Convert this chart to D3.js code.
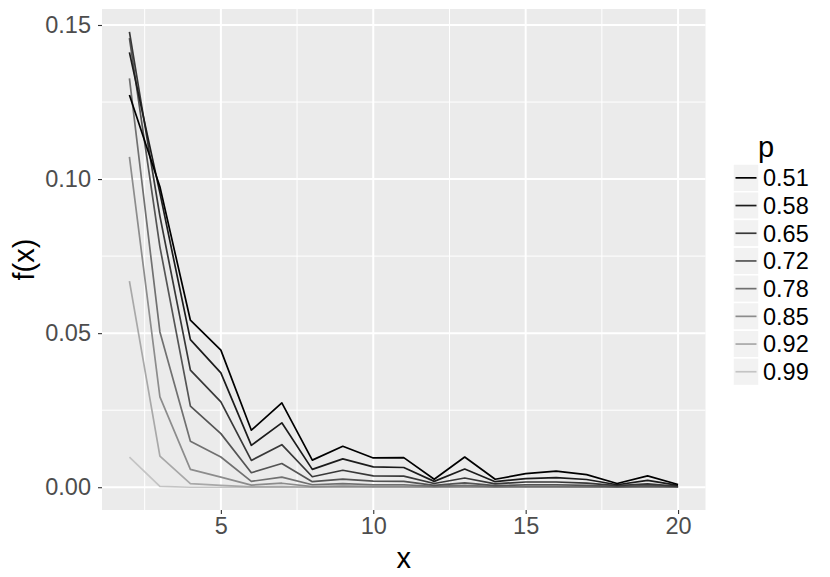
<!DOCTYPE html>
<html>
<head>
<meta charset="utf-8">
<script src="https://cdn.jsdelivr.net/npm/d3@7"></script>
<style>
  body { margin: 0; background: #fff; }
  text { font-family: "Liberation Sans", Arial, sans-serif; }
</style>
</head>
<body>
<div id="chart"></div>
<script>
// values
var xs = [2, 3, 4, 5, 6, 7, 8, 9, 10, 11, 12, 13, 14, 15, 16, 17, 18, 19, 20];
var pLevels = ["0.51", "0.58", "0.65", "0.72", "0.78", "0.85", "0.92", "0.99"];
var f051 = [0.1273, 0.0975, 0.0542, 0.0445, 0.0185, 0.0274, 0.0088, 0.0133, 0.0095, 0.0096, 0.0026, 0.0098, 0.0026, 0.0044, 0.0052, 0.0041, 0.0012, 0.0037, 0.0009];
var f058 = [0.1411, 0.0955, 0.0479, 0.0371, 0.0136, 0.0209, 0.0058, 0.0092, 0.0066, 0.0064, 0.0019, 0.0059, 0.0018, 0.0028, 0.0031, 0.0025, 0.0008, 0.0022, 0.0006];
var f065 = [0.1478, 0.0880, 0.0380, 0.0277, 0.0087, 0.0138, 0.0034, 0.0055, 0.0037, 0.0036, 0.0012, 0.0030, 0.0011, 0.0017, 0.0017, 0.0013, 0.0005, 0.0011, 0.0003];
var f072 = [0.1457, 0.0780, 0.0263, 0.0174, 0.0047, 0.0077, 0.0018, 0.0026, 0.0020, 0.0019, 0.0006, 0.0014, 0.0005, 0.0008, 0.0008, 0.0006, 0.0002, 0.0005, 0.0002];
var f078 = [0.1327, 0.0504, 0.0149, 0.0098, 0.0019, 0.0033, 0.0008, 0.0012, 0.0008, 0.0008, 0.0003, 0.0006, 0.0002, 0.0003, 0.0003, 0.0002, 0.0001, 0.0002, 0.0001];
var f085 = [0.1072, 0.0293, 0.0058, 0.0033, 0.0007, 0.0013, 0.0002, 0.0004, 0.0003, 0.0003, 0.0001, 0.0002, 0.0001, 0.0001, 0.0001, 0.0001, 0.0000, 0.0001, 0.0000];
var f092 = [0.0669, 0.0101, 0.0012, 0.0006, 0.0001, 0.0002, 0.0000, 0.0000, 0.0000, 0.0000, 0.0000, 0.0000, 0.0000, 0.0000, 0.0000, 0.0000, 0.0000, 0.0000, 0.0000];
var f099 = [0.0098, 0.0003, 0.0000, 0.0000, 0.0000, 0.0000, 0.0000, 0.0000, 0.0000, 0.0000, 0.0000, 0.0000, 0.0000, 0.0000, 0.0000, 0.0000, 0.0000, 0.0000, 0.0000];
var yTicks = [0, 0.05, 0.10, 0.15];
var xTicks = [5, 10, 15, 20];

var seriesVals = [f051, f058, f065, f072, f078, f085, f092, f099];
var series = pLevels.map(function (p, i) {
  return { p: p, values: xs.map(function (x, j) { return { x: x, y: seriesVals[i][j] }; }) };
});

var width = 830, height = 577;
var panel = { left: 102, right: 705.5, top: 9, bottom: 510 };

var svg = d3.select("#chart").append("svg")
  .attr("width", width)
  .attr("height", height);

// ggplot-like 5% expansion
var xExt = d3.extent(xs);
var xPad = (xExt[1] - xExt[0]) * 0.05;
var yMax = d3.max(seriesVals, function (s) { return d3.max(s); });
var yPad = yMax * 0.05;

var x = d3.scaleLinear().domain([xExt[0] - xPad, xExt[1] + xPad]).range([panel.left, panel.right]);
var y = d3.scaleLinear().domain([-yPad, yMax + yPad]).range([panel.bottom, panel.top]);

var colour = d3.scaleOrdinal()
  .domain(pLevels)
  .range(pLevels.map(function (d, i) {
    var g = Math.round(196 * i / (pLevels.length - 1));
    return d3.rgb(g, g, g).toString();
  }));

// panel background
svg.append("rect")
  .attr("x", panel.left).attr("y", panel.top)
  .attr("width", panel.right - panel.left).attr("height", panel.bottom - panel.top)
  .attr("fill", "#EBEBEB");

// minor grid
var xMinor = [2.5, 7.5, 12.5, 17.5];
var yMinor = [0.025, 0.075, 0.125];
svg.append("g").selectAll("line").data(xMinor).enter().append("line")
  .attr("x1", function (d) { return x(d); }).attr("x2", function (d) { return x(d); })
  .attr("y1", panel.top).attr("y2", panel.bottom)
  .attr("stroke", "#fff").attr("stroke-width", 1);
svg.append("g").selectAll("line").data(yMinor).enter().append("line")
  .attr("y1", function (d) { return y(d); }).attr("y2", function (d) { return y(d); })
  .attr("x1", panel.left).attr("x2", panel.right)
  .attr("stroke", "#fff").attr("stroke-width", 1);

// major grid
svg.append("g").selectAll("line").data(xTicks).enter().append("line")
  .attr("x1", function (d) { return x(d); }).attr("x2", function (d) { return x(d); })
  .attr("y1", panel.top).attr("y2", panel.bottom)
  .attr("stroke", "#fff").attr("stroke-width", 2);
svg.append("g").selectAll("line").data(yTicks).enter().append("line")
  .attr("y1", function (d) { return y(d); }).attr("y2", function (d) { return y(d); })
  .attr("x1", panel.left).attr("x2", panel.right)
  .attr("stroke", "#fff").attr("stroke-width", 2);

// lines
var line = d3.line()
  .x(function (d) { return x(d.x); })
  .y(function (d) { return y(d.y); });

svg.append("g").selectAll("path").data(series.slice().reverse()).enter().append("path")
  .attr("d", function (d) { return line(d.values); })
  .attr("fill", "none")
  .attr("stroke", function (d) { return colour(d.p); })
  .attr("stroke-width", 1.7)
  .attr("stroke-linejoin", "round");

// axes
var xAxis = svg.append("g")
  .attr("transform", "translate(0," + panel.bottom + ")")
  .call(d3.axisBottom(x).tickValues(xTicks).tickSize(4).tickPadding(3).tickFormat(d3.format("d")));
var yAxis = svg.append("g")
  .attr("transform", "translate(" + panel.left + ",0)")
  .call(d3.axisLeft(y).tickValues(yTicks).tickSize(4).tickPadding(7).tickFormat(d3.format(".2f")));

[xAxis, yAxis].forEach(function (ax) {
  ax.select(".domain").remove();
  ax.selectAll(".tick line").attr("stroke", "#333333").attr("stroke-width", 1.1);
  ax.selectAll(".tick text")
    .attr("fill", "#4D4D4D")
    .style("font-size", "23.5px")
    .style("font-family", "Liberation Sans, Arial, sans-serif");
});

// axis titles
svg.append("text")
  .attr("x", (panel.left + panel.right) / 2)
  .attr("y", 568)
  .attr("text-anchor", "middle")
  .style("font-size", "29px")
  .attr("fill", "#000")
  .text("x");

svg.append("text")
  .attr("transform", "translate(34," + ((panel.top + panel.bottom) / 2) + ") rotate(-90)")
  .attr("text-anchor", "middle")
  .style("font-size", "29px")
  .attr("fill", "#000")
  .text("f(x)");

// legend
var legend = svg.append("g").attr("transform", "translate(733,164)");
legend.append("text")
  .attr("x", 25)
  .attr("y", -7)
  .style("font-size", "29px")
  .attr("fill", "#000")
  .text("p");

var keyH = 27.7;
var keys = legend.selectAll("g.key").data(pLevels).enter().append("g")
  .attr("class", "key")
  .attr("transform", function (d, i) { return "translate(0," + (i * keyH) + ")"; });
keys.append("rect")
  .attr("width", 26).attr("height", keyH)
  .attr("fill", "#F2F2F2")
  .attr("stroke", "#fff")
  .attr("stroke-width", 1.5);
keys.append("line")
  .attr("x1", 2.5).attr("x2", 23.5)
  .attr("y1", keyH / 2).attr("y2", keyH / 2)
  .attr("stroke", function (d) { return colour(d); })
  .attr("stroke-width", 1.7);
keys.append("text")
  .attr("x", 30)
  .attr("y", keyH / 2)
  .attr("dy", "0.36em")
  .style("font-size", "23.5px")
  .attr("fill", "#000")
  .text(function (d) { return d; });
</script>
</body>
</html>
